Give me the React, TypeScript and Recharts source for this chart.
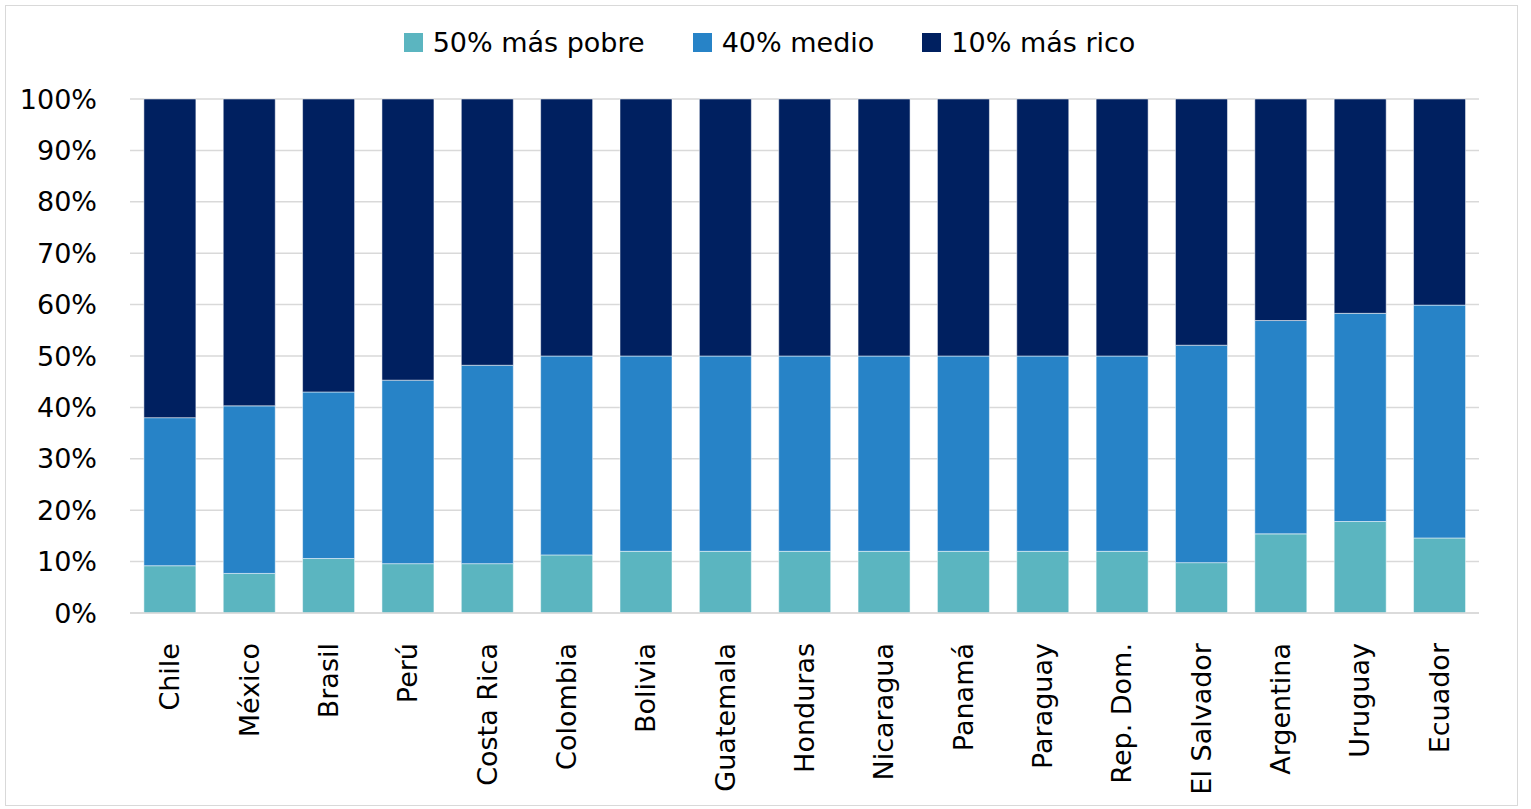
import { BarChart, Bar, XAxis, YAxis, CartesianGrid } from "recharts";

const countries = [
  "Chile", "México", "Brasil", "Perú", "Costa Rica", "Colombia", "Bolivia",
  "Guatemala", "Honduras", "Nicaragua", "Panamá", "Paraguay", "Rep. Dom.",
  "El Salvador", "Argentina", "Uruguay", "Ecuador",
];
const poorest50 = [9.2, 7.7, 10.6, 9.6, 9.6, 11.3, 12, 12, 12, 12, 12, 12, 12, 9.8, 15.4, 17.8, 14.6];
const middle40 = [28.8, 32.6, 32.4, 35.7, 38.6, 38.7, 38, 38, 38, 38, 38, 38, 38, 42.3, 41.5, 40.5, 45.3];
const richest10 = [62, 59.7, 57, 54.7, 51.8, 50, 50, 50, 50, 50, 50, 50, 50, 47.9, 43.1, 41.7, 40.1];
const yTicks = [0, 10, 20, 30, 40, 50, 60, 70, 80, 90, 100];

const series = [
  { key: "poor", name: "50% más pobre", color: "#5BB5C0" },
  { key: "mid", name: "40% medio", color: "#2783C7" },
  { key: "rich", name: "10% más rico", color: "#002060" },
];

const data = countries.map((c, i) => ({
  country: c,
  poor: poorest50[i],
  mid: middle40[i],
  rich: richest10[i],
}));

const FONT = "'DejaVu Sans', sans-serif";

function CountryTick({ x, y, payload }: any) {
  return (
    <text
      x={x}
      y={y + 22}
      transform={`rotate(-90, ${x}, ${y + 22})`}
      textAnchor="end"
      dominantBaseline="central"
      fill="#000"
      fontSize={27}
      fontFamily={FONT}
    >
      {payload.value}
    </text>
  );
}

function LegendBox() {
  return (
    <div
      style={{
        position: "absolute",
        left: 0,
        top: 27,
        width: 1531,
        display: "flex",
        justifyContent: "center",
        fontFamily: FONT,
        fontSize: 27,
        color: "#000",
        paddingLeft: 8,
        boxSizing: "border-box",
      }}
    >
      {series.map((s, i) => (
        <span key={s.key} style={{ display: "flex", alignItems: "center", marginLeft: i ? 48 : 0 }}>
          <span style={{ width: 19, height: 19, background: s.color, marginRight: 10, display: "inline-block" }} />
          {s.name}
        </span>
      ))}
    </div>
  );
}

export default function App() {
  return (
    <div style={{ position: "absolute", left: 0, top: 0, width: 1531, height: 809, background: "#fff" }}>
      <div
        style={{
          position: "absolute",
          left: 5,
          top: 5,
          width: 1511,
          height: 799,
          border: "1px solid #d9d9d9",
        }}
      />
      <LegendBox />
      <BarChart
        width={1531}
        height={809}
        data={data}
        margin={{ top: 99, right: 52, bottom: 6, left: 0 }}
        barCategoryGap="17.5%"
      >
        <CartesianGrid vertical={false} stroke="#d9d9d9" strokeWidth={1.5} />
        <XAxis
          dataKey="country"
          interval={0}
          height={190}
          tickLine={false}
          axisLine={{ stroke: "#d9d9d9", strokeWidth: 1.5 }}
          tick={<CountryTick />}
        />
        <YAxis
          width={130}
          domain={[0, 100]}
          ticks={yTicks}
          tickFormatter={(v: number) => `${v}%`}
          axisLine={false}
          tickLine={false}
          tickSize={0}
          tickMargin={33}
          tick={{ fill: "#000", fontSize: 27, fontFamily: FONT }}
        />
        {series.map((s) => (
          <Bar
            key={s.key}
            dataKey={s.key}
            name={s.name}
            stackId="a"
            fill={s.color}
            stroke="#ffffff"
            strokeWidth={0.5}
            isAnimationActive={false}
          />
        ))}
      </BarChart>
    </div>
  );
}
